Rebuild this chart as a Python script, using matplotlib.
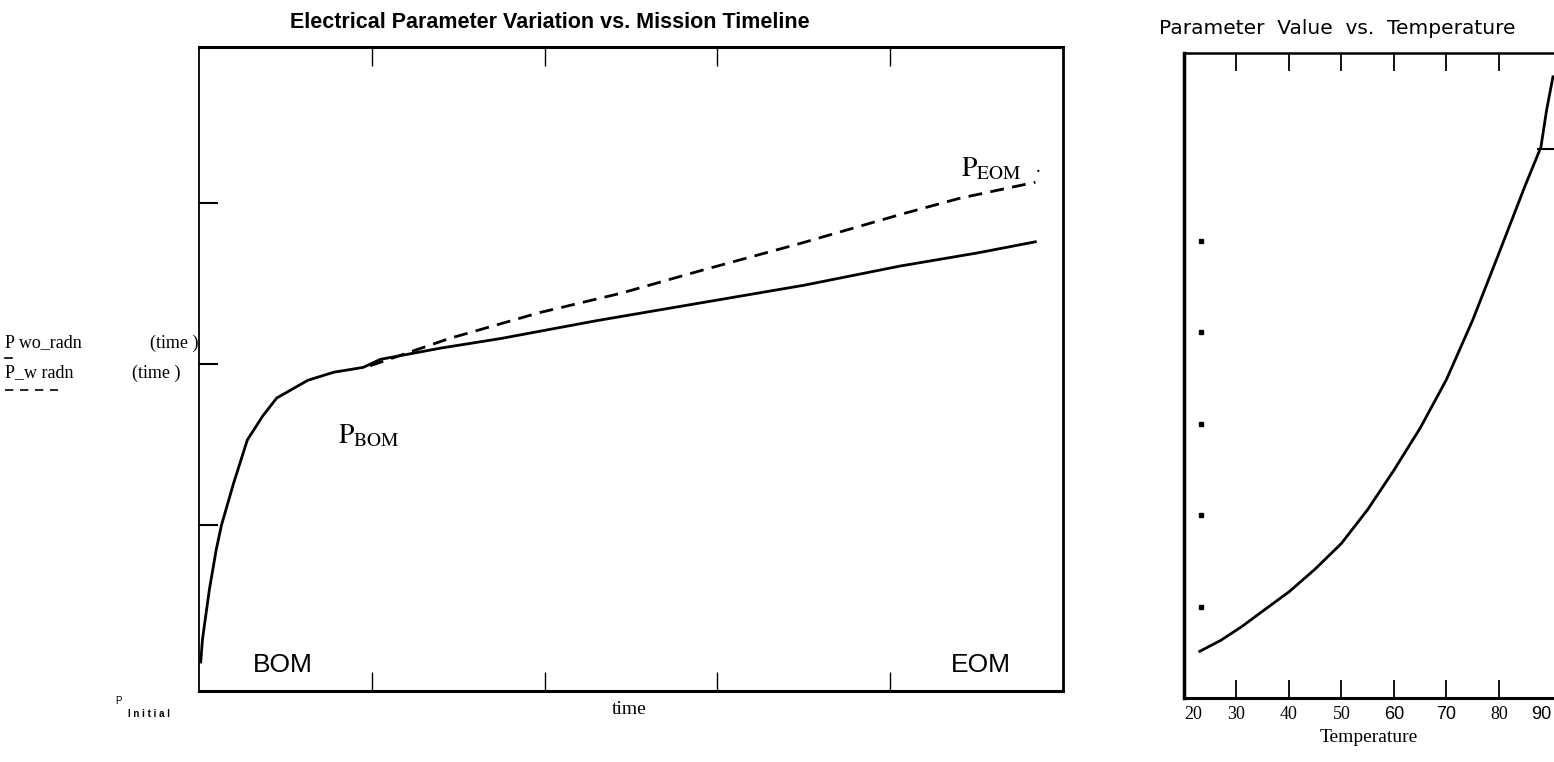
"""Electrical parameter vs. mission timeline, and parameter vs. temperature."""

import matplotlib
matplotlib.use("Agg")
import matplotlib.pyplot as plt
import matplotlib.transforms as mtransforms
from matplotlib.lines import Line2D

W, H = 1554, 762

# left panel: time (arbitrary units, ticks every 1) vs. parameter value
time_solid = [0.01, 0.02, 0.06, 0.10, 0.13, 0.20, 0.28, 0.37, 0.45, 0.63, 0.78, 0.95, 1.05,
              1.40, 1.75, 2.30, 2.90, 3.50, 4.06, 4.50, 4.84]
p_wo_radn = [0.15, 0.29, 0.60, 0.85, 1.00, 1.26, 1.53, 1.68, 1.79, 1.90, 1.95, 1.98, 2.03,
             2.10, 2.16, 2.27, 2.38, 2.49, 2.61, 2.69, 2.76]
time_dash = [0.99, 1.45, 1.97, 2.44, 2.90, 3.48, 4.06, 4.40, 4.84]
p_w_radn = [1.99, 2.16, 2.32, 2.44, 2.58, 2.75, 2.93, 3.03, 3.13]
time_ticks = [1, 2, 3, 4]
value_ticks = [1, 2, 3]

# right panel: temperature vs. parameter value
temperature = [23, 27, 31, 35, 40, 45, 50, 55, 60, 65, 70, 75, 80, 85, 88, 89.1, 90.3]
param_value = [0.51, 0.63, 0.78, 0.95, 1.16, 1.41, 1.69, 2.06, 2.49, 2.95, 3.48, 4.13, 4.86,
               5.60, 6.02, 6.43, 6.79]
temp_ticks = [20, 30, 40, 50, 60, 70, 80, 90]
temp_sans = [60, 70, 90]
right_dots = [1, 2, 3, 4, 5]
right_side_tick = [6]

SERIF = "Liberation Serif"
SANS = "Liberation Sans"


def box(x0, y0, x1, y1):
    return [x0 / W, 1 - y1 / H, (x1 - x0) / W, (y1 - y0) / H]


def fx(px):
    return px / W


def fy(py):
    return 1 - py / H


plt.rcParams["mathtext.fontset"] = "stix"
fig = plt.figure(figsize=(W / 100, H / 100), dpi=100)

# ---- left panel ----
ax = fig.add_axes(box(199, 47, 1063, 691))
ax.plot(time_solid, p_wo_radn, color="black", lw=2.0)
ax.plot(time_dash, p_w_radn, color="black", lw=2.0, ls=(0, (5, 3)))
ax.set_xlim(0, 5)
ax.set_ylim(-0.03, 3.97)
ax.set_xticks(time_ticks)
ax.set_yticks(value_ticks)
ax.tick_params(axis="x", direction="in", length=14, width=1.0, top=True, bottom=True,
               labelbottom=False)
ax.tick_params(axis="y", direction="in", length=14, width=1.5, left=True, right=False,
               labelleft=False)
for side, lw in [("top", 2.2), ("bottom", 2.2), ("left", 1.3), ("right", 2.0)]:
    ax.spines[side].set_linewidth(lw)

fig.text(fx(550), fy(22), "Electrical Parameter Variation vs. Mission Timeline",
         ha="center", va="center", family=SANS, weight="bold", fontsize=15.5)

fig.text(fx(283), fy(665), "BOM", ha="center", va="center", family=SANS, fontsize=19)
fig.text(fx(981), fy(665), "EOM", ha="center", va="center", family=SANS, fontsize=19)

fig.text(fx(338), fy(435), r"$\mathrm{P}_{\mathrm{BOM}}$", ha="left", va="center",
         fontsize=20)
fig.text(fx(961), fy(168), r"$\mathrm{P}_{\mathrm{EOM}}$", ha="left", va="center",
         fontsize=20)
fig.text(fx(1036), fy(168), ".", ha="left", va="center", family=SERIF, fontsize=14)

# legend-like labels on the left
fig.text(fx(5), fy(343), "P wo_radn", ha="left", va="center", family=SERIF, fontsize=13)
fig.text(fx(198), fy(343), "(time )", ha="right", va="center", family=SERIF, fontsize=13)
fig.text(fx(5), fy(373), "P_w radn", ha="left", va="center", family=SERIF, fontsize=13)
fig.text(fx(181), fy(373), "(time )", ha="right", va="center", family=SERIF, fontsize=13)
fig.add_artist(Line2D([fx(5), fx(12)], [fy(358), fy(358)], transform=fig.transFigure,
                      color="black", lw=1.2))
fig.add_artist(Line2D([fx(5), fx(58)], [fy(390), fy(390)], transform=fig.transFigure,
                      color="black", lw=1.2, ls=(0, (5, 4))))

fig.text(fx(115), fy(701), "P", ha="left", va="center", family=SANS, fontsize=7)
fig.text(fx(128), fy(714), "I n i t i a l", ha="left", va="center", family=SANS,
         weight="bold", fontsize=7)
fig.text(fx(629), fy(710), "time", ha="center", va="center", family=SERIF, fontsize=14)

# ---- right panel ----
ax2 = fig.add_axes(box(1184, 53, 1554, 698))
ax2.plot(temperature, param_value, color="black", lw=2.0)
ax2.set_xlim(20, 90.5)
ax2.set_ylim(0, 7.05)
ax2.set_xticks(temp_ticks)
ax2.set_xticklabels([str(t) for t in temp_ticks])
ax2.tick_params(axis="x", direction="in", length=13, width=1.3, top=True, bottom=True,
                pad=6)
for t, lab in zip(temp_ticks, ax2.get_xticklabels()):
    lab.set_family(SANS if t in temp_sans else SERIF)
    lab.set_fontsize(13)
majors = ax2.xaxis.get_major_ticks()
for tk in (majors[0], majors[-1]):
    tk.tick1line.set_visible(False)
    tk.tick2line.set_visible(False)
# nudge end labels so they stay inside the figure like the original scan
majors[0].label1.set_horizontalalignment("left")
majors[-1].label1.set_horizontalalignment("right")
ax2.set_yticks(right_side_tick)
ax2.tick_params(axis="y", direction="in", length=12, width=1.5, left=False, right=True,
                labelleft=False, labelright=False)
ax2.spines["right"].set_visible(False)
ax2.spines["left"].set_linewidth(2.5)
ax2.spines["bottom"].set_linewidth(2.2)
ax2.spines["top"].set_linewidth(1.8)
ax2.set_xlabel("Temperature", family=SERIF, fontsize=14, labelpad=4)

dot_tr = mtransforms.blended_transform_factory(ax2.transAxes, ax2.transData)
ax2.plot([0.046] * len(right_dots), right_dots, ls="none", marker="s", markersize=2.2,
         color="black", transform=dot_tr)

fig.text(fx(1337), fy(29), "Parameter  Value  vs.  Temperature", ha="center", va="center",
         family="DejaVu Sans", fontsize=14.5)

fig.savefig("out.png", dpi=100)
